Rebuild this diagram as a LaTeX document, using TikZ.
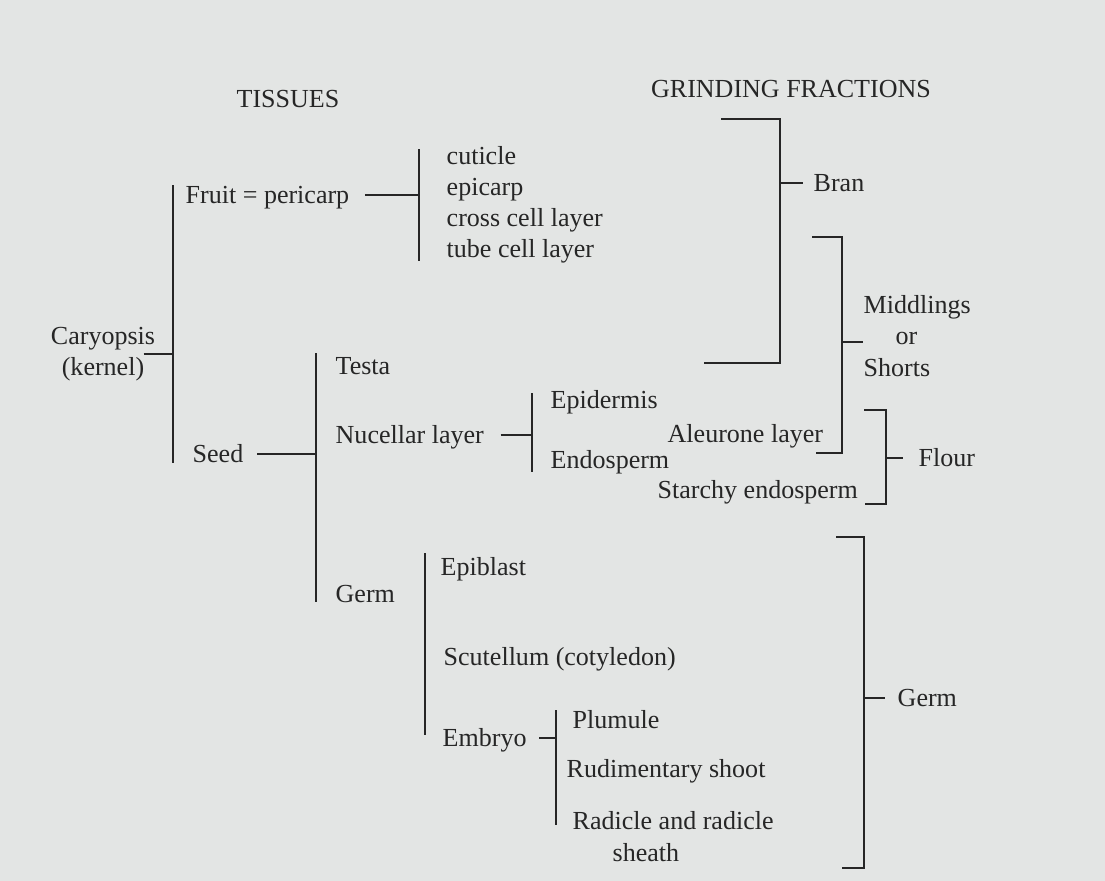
\documentclass[tikz,border=0pt]{standalone}
\usepackage{fontspec}
\setmainfont{Liberation Serif}
\usetikzlibrary{positioning}
\definecolor{paper}{RGB}{227,229,228}
\definecolor{ink}{RGB}{38,38,38}
\tikzset{
  lbl/.style = {inner sep=0, text=ink, font=\fontsize{7.4}{8.9}\selectfont},
  brk/.style = {draw=ink, line width=0.6pt},
}

\begin{document}
\begin{tikzpicture}[x=0.01cm, y=-0.01cm]
  \fill [paper] (0,0) rectangle (1105,881);

  \node (tis) [lbl, anchor=base] at (288,107) {TISSUES};
  \node (grf) [lbl, anchor=base] at (791,97) {GRINDING FRACTIONS};

  % tissues, mostly of the form
  % A --| a, b, c
  \node (cary) [lbl, align=center] at (103,354) {Caryopsis\\(kernel)};
  \foreach \N/\x/\y/\T in {
    fruit/185/203/{Fruit = pericarp},
    seed/192/462/Seed,
    cuti/446/164/cuticle,
    epic/446/195/epicarp,
    cros/446/226/cross cell layer,
    tube/446/257/tube cell layer,
    testa/335/374/Testa,
    nuc/335/443/Nucellar layer,
    germ/335/602/Germ,
    epid/550/408/Epidermis,
    endo/550/468/Endosperm,
    aleu/667/442/Aleurone layer,
    starch/657/498/Starchy endosperm,
    epib/440/575/Epiblast,
    scut/443/665/Scutellum (cotyledon),
    emb/442/746/Embryo,
    plum/572/728/Plumule,
    rud/566/777/Rudimentary shoot%
  }{
    \node (\N) [lbl, anchor=base west] at (\x,\y) {\T};
  }
  \node (rad) [lbl, align=left, anchor=north west] at (572,811)
    {Radicle and radicle\\\hspace*{0.4cm}sheath};

  \foreach \N/\x/\t/\b in {car/173/185/463, cut/419/149/261, sd/316/353/602,
                           ep/532/393/472, gm/425/553/735, em/556/710/825}{
    \coordinate (\N top) at (\x,\t);
    \coordinate (\N bot) at (\x,\b);
    \draw [brk] (\N top) -- (\N bot);
  }

  \draw [brk] ([xshift=-0.12cm]cary.east) -- (cary.east -| cartop);
  \foreach \N/\B/\g in {fruit/cuttop/0.15cm, seed/sdtop/0.13cm,
                        nuc/eptop/0.16cm, emb/emtop/0.12cm}{
    \draw [brk] ([xshift=\g]\N.mid east) -- (\N.mid east -| \B);
  }

  % grinding fractions
  \foreach \N/\x/\t/\tl/\b/\bl in {bran/780/119/721/363/704, mds/842/237/812/453/816,
                                   flr/886/410/864/504/865, grm/864/537/836/868/842}{
    \coordinate (\N top) at (\tl,\t);
    \coordinate (\N bar) at (\x,\t);
    \coordinate (\N bot) at (\bl,\b);
    \draw [brk] (\N top) -- (\N bar) -- (\N bar |- \N bot) -- (\N bot);
  }

  \coordinate (branmid) at (780,183);
  \node (bran) [lbl, right=0.33cm of branmid] {Bran};
  \draw [brk] (branmid) -- ([xshift=-0.1cm]bran.west);

  \coordinate (mdsmid) at (842,342);
  \node (mids) [lbl, align=left, anchor=west] at (863,336)
    {Middlings\\\hspace*{0.32cm}or\\Shorts};
  \draw [brk] (mdsmid) -- (mdsmid -| mids.west);

  \coordinate (flrmid) at (886,458);
  \node (flour) [lbl, right=0.32cm of flrmid] {Flour};
  \draw [brk] (flrmid) -- ([xshift=-0.15cm]flour.west);

  \coordinate (grmmid) at (864,698);
  \node (grm) [lbl, right=0.33cm of grmmid] {Germ};
  \draw [brk] (grmmid) -- ([xshift=-0.12cm]grm.west);
\end{tikzpicture}
\end{document}
